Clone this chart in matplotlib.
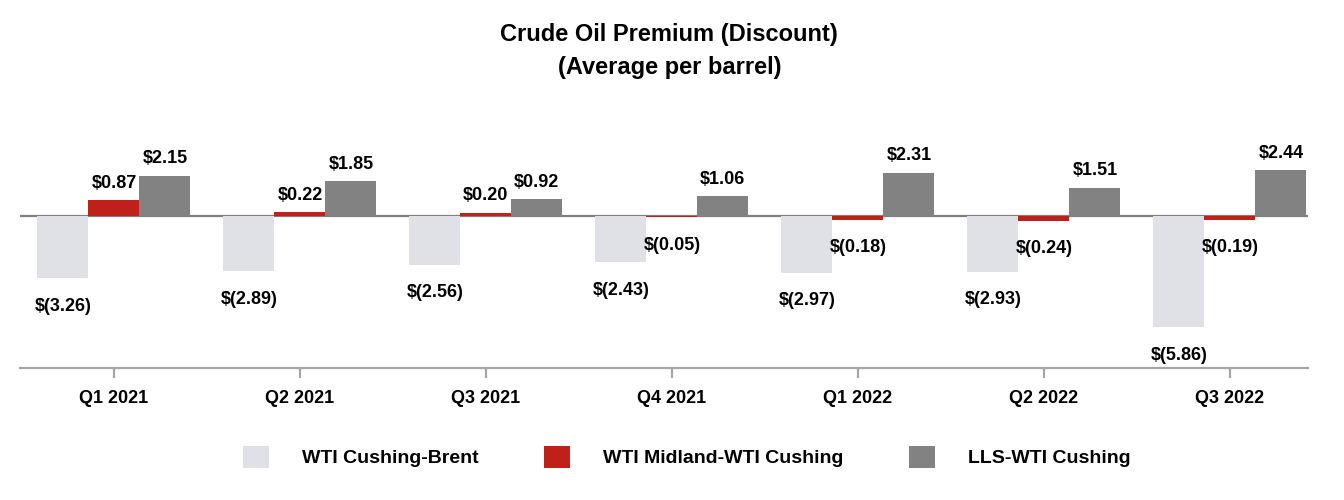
import matplotlib
matplotlib.use('Agg')
import matplotlib.pyplot as plt
from matplotlib.patches import Patch
import numpy as np

plt.rcParams['font.family'] = ['Liberation Sans', 'DejaVu Sans']
plt.rcParams['font.weight'] = 'bold'

quarters = ['Q1 2021', 'Q2 2021', 'Q3 2021', 'Q4 2021', 'Q1 2022', 'Q2 2022', 'Q3 2022']
wti_cushing_brent = [-3.26, -2.89, -2.56, -2.43, -2.97, -2.93, -5.86]
wti_midland_cushing = [0.87, 0.22, 0.20, -0.05, -0.18, -0.24, -0.19]
lls_wti_cushing = [2.15, 1.85, 0.92, 1.06, 2.31, 1.51, 2.44]
series_names = ['WTI Cushing-Brent', 'WTI Midland-WTI Cushing', 'LLS-WTI Cushing']
colors = ['#E0E1E6', '#C0201A', '#828282']


def fmt(v):
    return f'${v:.2f}' if v >= 0 else f'$({-v:.2f})'


fig = plt.figure(figsize=(13.44, 5.0), dpi=100)
ax = fig.add_axes([20 / 1344, 132 / 500, 1288 / 1344, 228 / 500])

x = np.arange(len(quarters))
width = 0.274
series = [wti_cushing_brent, wti_midland_cushing, lls_wti_cushing]
offsets = [-width, 0, width]

ax.axhline(0, color='#7f7f7f', lw=1.6, zorder=1)

for vals, off, col in zip(series, offsets, colors):
    ax.bar(x + off, vals, width, color=col, zorder=2, linewidth=0)
    for xi, v in zip(x, vals):
        if v >= 0:
            ax.annotate(fmt(v), (xi + off, v), xytext=(0, 6), textcoords='offset points',
                        ha='center', va='bottom', fontsize=13, fontweight='bold', color='black')
        else:
            ax.annotate(fmt(v), (xi + off, v), xytext=(0, -14), textcoords='offset points',
                        ha='center', va='top', fontsize=13, fontweight='bold', color='black')

ax.set_xlim(-0.505, 6.42)
ax.set_ylim(-8.0, 4.03)
ax.set_xticks(x)
ax.set_xticklabels(quarters, fontsize=13, fontweight='bold')
ax.set_yticks([])
for s in ['top', 'right', 'left']:
    ax.spines[s].set_visible(False)
ax.spines['bottom'].set_color('#a6a6a6')
ax.spines['bottom'].set_linewidth(1.6)
ax.tick_params(axis='x', length=7, width=1.6, color='#a6a6a6', pad=9)

fig.text(0.498, 1 - 51 / 500, 'Crude Oil Premium (Discount)\n(Average per barrel)',
         ha='center', va='center', fontsize=17, fontweight='bold', linespacing=1.55)

handles = [Patch(facecolor=c, edgecolor='none', label=n) for c, n in zip(colors, series_names)]
fig.legend(handles=handles, loc='center', bbox_to_anchor=(0.511, 0.086), ncol=3, frameon=False,
           handlelength=1.34, handleheight=1.34, handletextpad=1.7, columnspacing=3.35,
           prop={'size': 14, 'weight': 'bold'})

fig.savefig('out.png', dpi=100)
